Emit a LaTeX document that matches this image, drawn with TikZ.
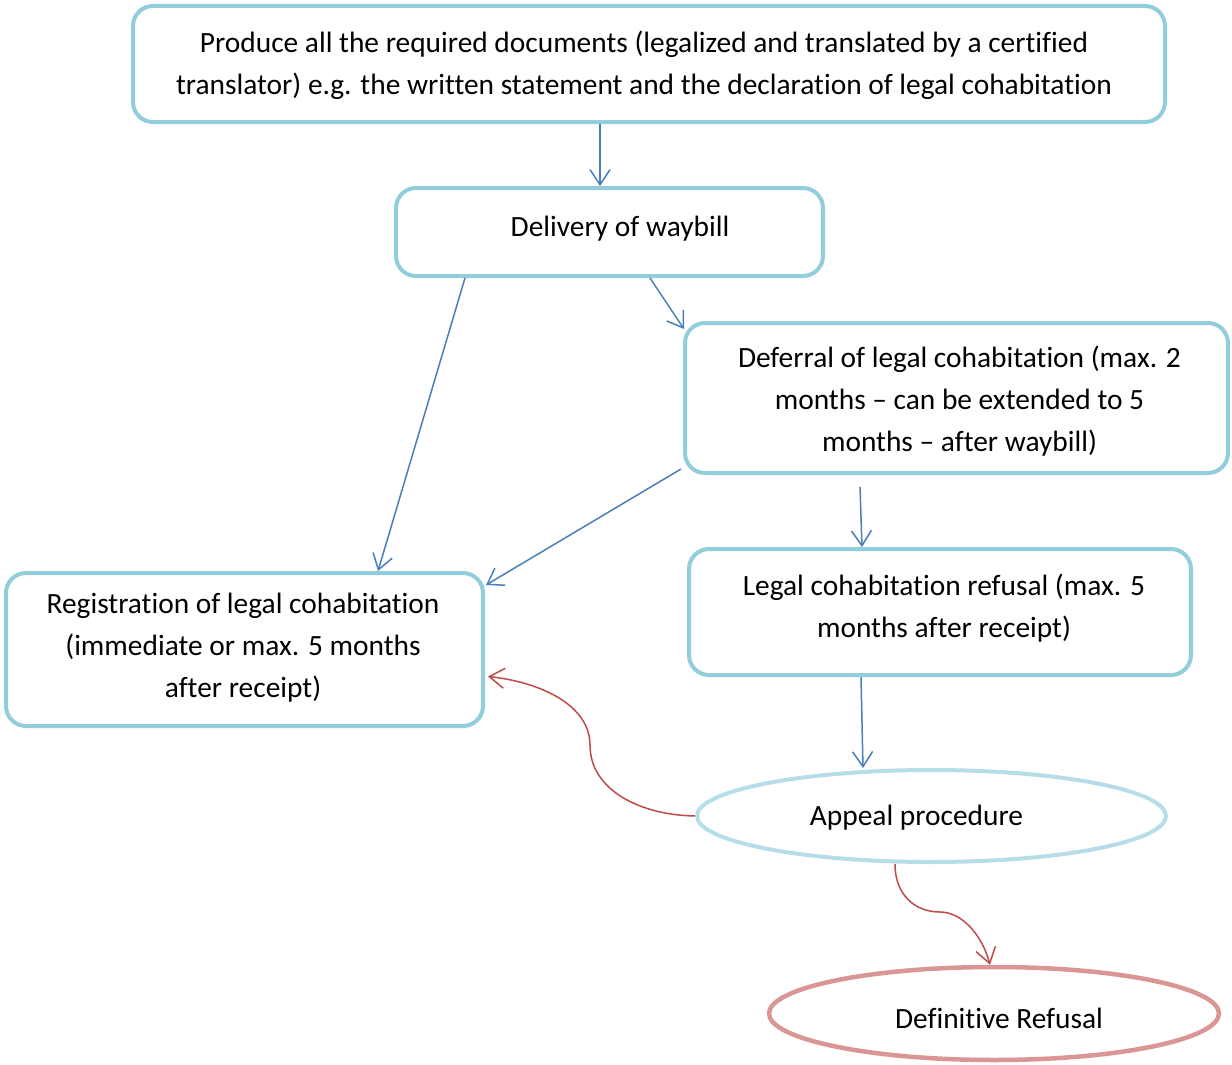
\documentclass[tikz,border=0pt]{standalone}
\usepackage{fontspec}
\setmainfont{Carlito}[Ligatures=NoCommon]
\usetikzlibrary{arrows.meta,shapes.geometric,calc}
\definecolor{boxline}{RGB}{146,205,220}
\definecolor{appline}{RGB}{183,222,232}
\definecolor{refline}{RGB}{217,150,148}
\definecolor{bluearrow}{RGB}{74,126,187}
\definecolor{redarrow}{RGB}{190,75,72}
% text block moved by (#1/2, #2) inside its node without changing the node's size
\newcommand{\shifted}[3]{\hspace*{#1}\raisebox{#2}[\height][\depth]{\begin{tabular}{@{}c@{}}#3\end{tabular}}}
\tikzset{
  stepbox/.style={draw=boxline, line width=4pt, rounded corners=20pt, fill=white,
    align=center, inner sep=0pt, font=\fontsize{29.4}{42}\selectfont},
  oval/.style={ellipse, draw, line width=4pt, inner sep=0pt, fill=white,
    font=\fontsize{29.4}{42}\selectfont},
  flow/.style={draw=bluearrow, line width=1.5pt, -{Straight Barb[length=15pt,width=20pt]}},
  back/.style={draw=redarrow, line width=1.5pt, -{Straight Barb[length=15pt,width=20pt]}}
}
\begin{document}
\begin{tikzpicture}[x=1pt,y=-1pt]
\useasboundingbox (0,0) rectangle (1232,1065);

% process boxes
\node[stepbox, minimum width=1032pt, minimum height=116pt] (top) at (649,64)
  {\shifted{-10pt}{-1pt}{Produce all the required documents (legalized and translated by a certified\\
   translator) e.g. the written statement and the declaration of legal cohabitation}};
\node[stepbox, minimum width=427pt, minimum height=88pt] (dl) at (609.5,232)
  {\shifted{21pt}{4pt}{Delivery of waybill}};
\node[stepbox, minimum width=543pt, minimum height=150pt] (def) at (956.5,398)
  {\shifted{6pt}{-3pt}{Deferral of legal cohabitation (max. 2\\ months -- can be extended to 5\\ months -- after waybill)}};
\node[stepbox, minimum width=477pt, minimum height=153pt] (reg) at (244.5,649.5)
  {\shifted{-3pt}{2pt}{Registration of legal cohabitation\\ (immediate or max. 5 months\\ after receipt)}};
\node[stepbox, minimum width=502pt, minimum height=126pt] (ref) at (940,612)
  {\shifted{8pt}{3.5pt}{Legal cohabitation refusal (max. 5\\ months after receipt)}};

% outcome ellipses
\node[oval, draw=appline, minimum width=469pt, minimum height=92pt] (app) at (931.5,816)
  {\shifted{-30pt}{-1pt}{Appeal procedure}};
\node[oval, draw=refline, line width=4.5pt, minimum width=450pt, minimum height=93pt] (fin) at (994,1013.5)
  {\shifted{10pt}{-7pt}{Definitive Refusal}};

% forward connectors
\draw[flow] (top.south -| 600,0) -- (dl.north -| 600,0);
\draw[flow] (dl.south -| 650,0) -- ([shift={(1,8)}]def.north west);
\draw[flow] (dl.south -| 465,0) -- (reg.north -| 378,0);
\draw[flow] ([shift={(-2,-6)}]def.south west) -- ([shift={(1,14)}]reg.north east);
\draw[flow] ($(def.south -| 860,0)+(0,12)$) -- (ref.north -| 862,0);
\draw[flow] (ref.south -| 861,0) -- (app.north -| 863,0);

% appeal outcomes
\draw[back] (app.west) .. controls (640,815) and (590,790) .. (590,745)
  .. controls (590,705) and (540,682) .. ([shift={(3,27)}]reg.east);
\draw[back] (app.south -| 895,0) .. controls (895,895) and (915,912) .. (940,912)
  .. controls (962,912) and (982,935) .. (fin.north -| 990,0);
\end{tikzpicture}
\end{document}
